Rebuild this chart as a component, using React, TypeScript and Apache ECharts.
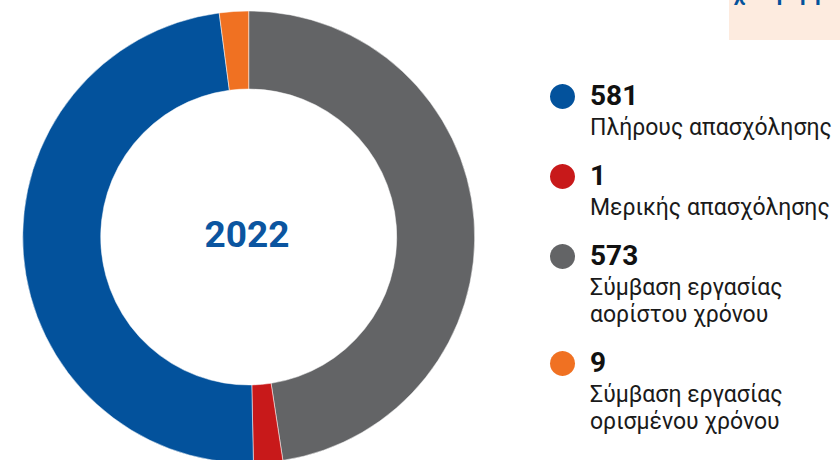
import React, { useEffect, useRef } from "react";
import * as echarts from "echarts";

const categories = [
  "Πλήρους απασχόλησης",
  "Μερικής απασχόλησης",
  "Σύμβαση εργασίας\nαορίστου χρόνου",
  "Σύμβαση εργασίας\nορισμένου χρόνου",
];
const values = [581, 1, 573, 9];
const colors = ["#03529c", "#c8191a", "#636466", "#f07122"];
// clockwise order of slices starting from 12 o'clock
const pieOrder = [2, 1, 0, 3];
const centerLabel = "2022";
const boxTitle = "Σχέση εργασίας";

export default function App() {
  const ref = useRef<HTMLDivElement>(null);
  useEffect(() => {
    if (!ref.current) return;
    const chart = echarts.init(ref.current, null, { renderer: "svg" });
    const FONT = "Roboto, 'Noto Sans', sans-serif";
    const NUM = 28;
    const LAB = 23;
    const LH = 27;

    const legendEls: any[] = [];
    let baseline = 105;
    categories.forEach((cat, i) => {
      const lines = cat.split("\n").length;
      legendEls.push({
        type: "circle",
        shape: { cx: 562.5, cy: baseline - 8.5, r: 12.5 },
        style: { fill: colors[i] },
      });
      legendEls.push({
        type: "text",
        x: 590,
        y: baseline - 15 - 0.342 * NUM,
        style: {
          text: String(values[i]),
          font: `bold ${NUM}px ${FONT}`,
          fill: "#111111",
          lineHeight: 30,
          textVerticalAlign: "top",
        },
      });
      legendEls.push({
        type: "text",
        x: 590,
        y: baseline + 30 - LH / 2 - 0.342 * LAB,
        style: {
          text: cat,
          font: `${LAB}px ${FONT}`,
          fill: "#1a1a1a",
          lineHeight: LH,
          textVerticalAlign: "top",
        },
      });
      baseline += 30 + LH * lines + 23;
    });

    chart.setOption({
      animation: false,
      backgroundColor: "#ffffff",
      graphic: [
        {
          type: "rect",
          shape: { x: 729, y: 0, width: 120, height: 40 },
          style: { fill: "#fdebdf" },
        },
        {
          type: "text",
          x: 800,
          y: -0.342 * 22,
          style: {
            text: boxTitle,
            font: `bold 22px ${FONT}`,
            fill: "#03529c",
            textAlign: "center",
            textVerticalAlign: "middle",
          },
        },
        ...legendEls,
        {
          type: "text",
          x: 247,
          y: 234.5,
          style: {
            text: centerLabel,
            font: `bold 37px ${FONT}`,
            fill: "#0b55a0",
            textAlign: "center",
            textVerticalAlign: "middle",
          },
        },
      ],
      series: [
        {
          type: "pie",
          center: [248.7, 237],
          radius: [148, 226],
          startAngle: 90,
          clockwise: true,
          minAngle: 7.5,
          avoidLabelOverlap: false,
          label: { show: false },
          labelLine: { show: false },
          emphasis: { disabled: true },
          itemStyle: { borderColor: "#ffffff", borderWidth: 0.5 },
          data: pieOrder.map((i) => ({
            name: categories[i],
            value: values[i],
            itemStyle: { color: colors[i] },
          })),
        },
      ],
    });
    return () => chart.dispose();
  }, []);
  return <div ref={ref} style={{ width: 840, height: 460, position: "absolute", left: 0, top: 0 }} />;
}
